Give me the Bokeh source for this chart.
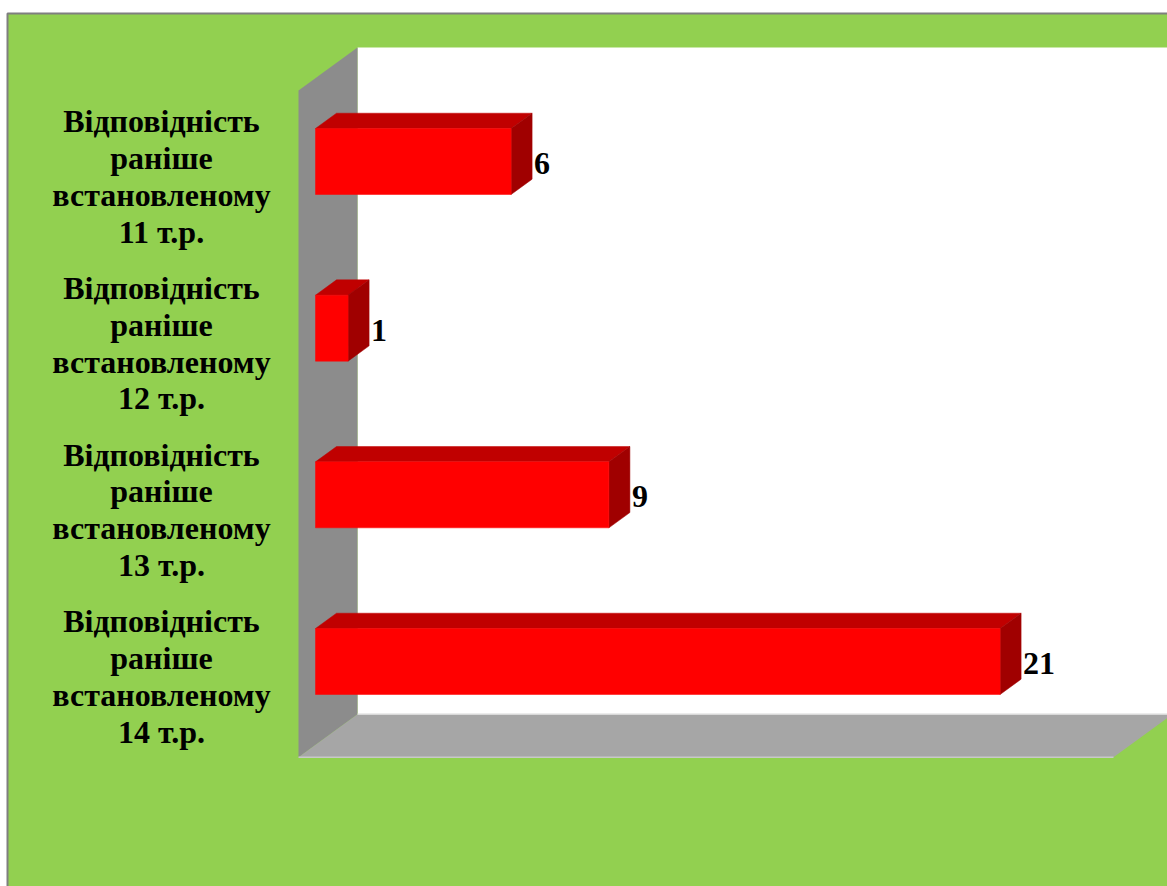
from bokeh.plotting import figure
from bokeh.models import Range1d
from bokeh.core.properties import value
from bokeh.embed import file_html
from bokeh.resources import INLINE

# ---- data ----
categories = [
    "Відповідність\nраніше\nвстановленому\n11 т.р.",
    "Відповідність\nраніше\nвстановленому\n12 т.р.",
    "Відповідність\nраніше\nвстановленому\n13 т.р.",
    "Відповідність\nраніше\nвстановленому\n14 т.р.",
]
values = [6, 1, 9, 21]
axis_max = 25

# ---- layout / style constants ----
W, H = 1167, 886
PAGE = 0
SX = 32.6          # px per value unit
SY = 166.67        # px per category step
X0 = 315 - PAGE    # px of value 0 (bar front plane)
Y0 = 161 - PAGE    # px of first category (bar front plane)
DX = 59.0 / SX     # full depth offset in value units
DY = -43.0 / SY    # full depth offset in category units
A, B = 0.288, 0.644  # bar depth (front/back) as fraction of full depth
HALF = 0.198       # half bar height in category units
FONT = value("Liberation Serif")

GREEN = "#92D050"

def px2v(page_x):
    return (page_x - PAGE - X0) / SX

def py2k(page_y):
    return (page_y - PAGE - Y0) / SY

def P(v, k, d):
    return (v + (d - A) * DX, k + (d - A) * DY)

p = figure(width=W, height=H, output_backend="svg", toolbar_location=None,
           x_axis_location=None, y_axis_location=None,
           x_range=Range1d(-X0 / SX, (W - X0) / SX),
           y_range=Range1d((H - Y0) / SY, -Y0 / SY),
           min_border=0, background_fill_color="white",
           border_fill_color="white", outline_line_color=None)
p.grid.visible = False

# green slide background with grey frame line
p.quad(left=[px2v(7)], right=[px2v(1400)], top=[py2k(13)], bottom=[py2k(1100)],
       fill_color=GREEN, line_color="#7F7F7F", line_width=2)

n = len(values)
k_lo, k_hi = -0.5, n - 0.5

# back wall
bw = [P(0, k_lo, 1), P(axis_max, k_lo, 1), P(axis_max, k_hi, 1), P(0, k_hi, 1)]
p.patch([c[0] for c in bw], [c[1] for c in bw], fill_color="white", line_color=None)
# left wall
lw = [P(0, k_lo, 0), P(0, k_lo, 1), P(0, k_hi, 1), P(0, k_hi, 0)]
p.patch([c[0] for c in lw], [c[1] for c in lw], fill_color="#8C8C8C", line_color=None)
# floor
fl = [P(0, k_hi, 0), P(0, k_hi, 1), P(axis_max, k_hi, 1), P(axis_max, k_hi, 0)]
p.patch([c[0] for c in fl], [c[1] for c in fl], fill_color="#A6A6A6", line_color=None)
# light edges
e1 = [P(0, k_hi, 1), P(axis_max, k_hi, 1)]
p.line([c[0] for c in e1], [c[1] for c in e1], line_color="#D9D9D9", line_width=1.5)
e2 = [P(0, k_hi, 0), P(axis_max, k_hi, 0)]
p.line([c[0] for c in e2], [c[1] for c in e2], line_color="#C8C8C8", line_width=1.5)

# bars
ks = list(range(n))
top_xs, top_ys, side_xs, side_ys = [], [], [], []
for v, k in zip(values, ks):
    t = [P(0, k - HALF, A), P(0, k - HALF, B), P(v, k - HALF, B), P(v, k - HALF, A)]
    s = [P(v, k - HALF, A), P(v, k - HALF, B), P(v, k + HALF, B), P(v, k + HALF, A)]
    top_xs.append([c[0] for c in t]); top_ys.append([c[1] for c in t])
    side_xs.append([c[0] for c in s]); side_ys.append([c[1] for c in s])
p.patches(top_xs, top_ys, fill_color="#C00000", line_color="#C00000", line_width=0.5)
p.patches(side_xs, side_ys, fill_color="#A00000", line_color="#A00000", line_width=0.5)
p.quad(left=[0] * n, right=values, top=[k - HALF for k in ks], bottom=[k + HALF for k in ks],
       fill_color="#FF0000", line_color="#FF0000", line_width=0.5)

# data labels
p.text(x=values, y=ks, text=[str(v) for v in values], x_offset=23, y_offset=2,
       text_align="left", text_baseline="middle", text_font=FONT,
       text_font_style="bold", text_font_size="32px", text_color="black")

# category labels
p.text(x=[px2v(161)] * n, y=ks, text=categories, y_offset=15,
       text_align="center", text_baseline="middle", text_font=FONT,
       text_font_style="bold", text_font_size="32px", text_color="black",
       text_line_height=1.02)

open("out.html", "w").write(file_html(p, INLINE))
